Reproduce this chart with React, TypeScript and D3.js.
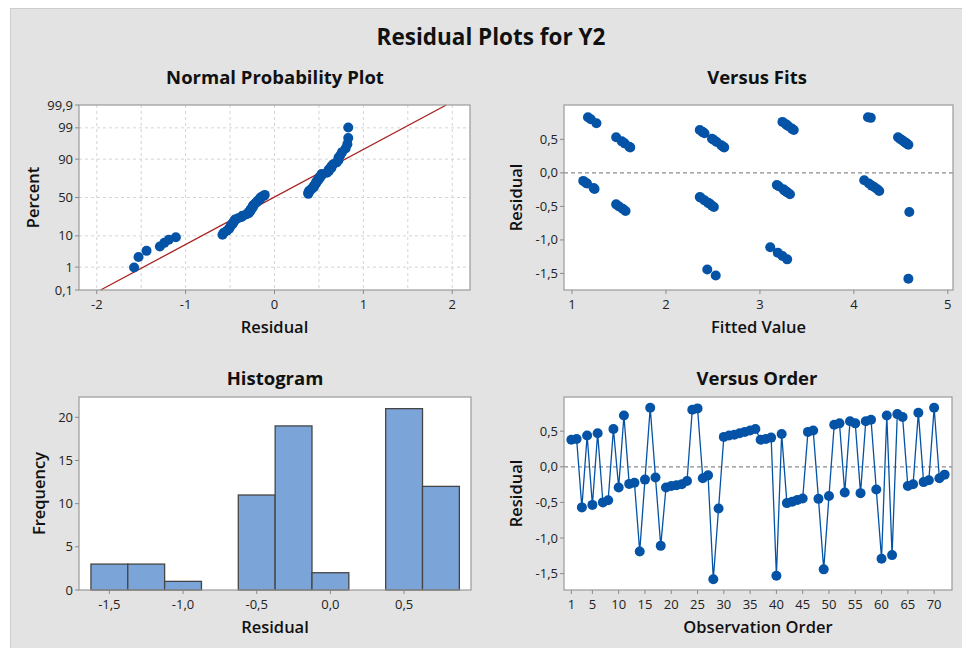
import React, { useRef, useEffect } from 'react';
import * as d3 from 'd3';

// residuals in observation order
const residuals = [
  0.38, 0.39, -0.57, 0.44, -0.535, 0.47, -0.5, -0.47, 0.53, -0.29,
  0.72, -0.24, -0.225, -1.19, -0.18, 0.83, -0.15, -1.11, -0.29, -0.27,
  -0.26, -0.245, -0.2, 0.8, 0.82, -0.16, -0.12, -1.58, -0.585, 0.42,
  0.44, 0.45, 0.47, 0.49, 0.51, 0.53, 0.38, 0.39, 0.41, -1.53,
  0.46, -0.51, -0.49, -0.465, -0.445, 0.49, 0.51, -0.45, -1.44, -0.41,
  0.59, 0.61, -0.36, 0.64, 0.61, -0.37, 0.64, 0.66, -0.32, -1.29,
  0.72, -1.24, 0.74, 0.7, -0.27, -0.245, 0.76, -0.215, -0.19, 0.83,
  -0.16, -0.11,
];

// fitted values, same order
const fittedValues = [
  1.62, 1.61, 1.57, 1.56, 1.54, 1.53, 1.5, 1.47, 1.47, 3.29,
  3.28, 1.24, 1.23, 3.19, 3.18, 1.17, 1.15, 3.11, 3.29, 3.27,
  3.26, 3.25, 3.2, 1.2, 4.18, 1.16, 1.12, 4.58, 4.59, 4.58,
  4.56, 4.55, 4.53, 4.51, 4.49, 4.47, 2.62, 2.61, 2.59, 2.53,
  2.54, 2.51, 2.49, 2.47, 2.45, 2.51, 2.49, 2.45, 2.44, 2.41,
  2.41, 2.39, 2.36, 3.36, 2.39, 2.37, 2.36, 3.34, 3.32, 3.29,
  3.28, 3.24, 1.26, 3.3, 4.27, 4.25, 3.24, 4.22, 4.19, 4.15,
  4.16, 4.11,
];

const histCenters = [-1.5, -1.25, -1.0, -0.75, -0.5, -0.25, 0.0, 0.25, 0.5, 0.75];
const histCounts = [3, 3, 1, 0, 11, 19, 2, 0, 21, 12];
const binWidth = 0.25;

const probTicks = [0.1, 1, 10, 50, 90, 99, 99.9];
const probGrid = [1, 10, 50, 90, 99];
const nppXTicks = [-2, -1, 0, 1, 2];
const nppXGrid = [-2, -1.5, -1, -0.5, 0, 0.5, 1, 1.5, 2];
const residTicks = [0.5, 0, -0.5, -1, -1.5];
const fitTicks = [1, 2, 3, 4, 5];
const histXTicks = [-1.5, -1, -0.5, 0, 0.5];
const histYTicks = [0, 5, 10, 15, 20];
const orderTicks = [1, 5, 10, 15, 20, 25, 30, 35, 40, 45, 50, 55, 60, 65, 70];

const FONT = "'Open Sans', 'Noto Sans', sans-serif";
const BLUE = '#0453a6';
const DOT = 5;

const locale = d3.formatLocale({ decimal: ',', thousands: '.', grouping: [3], currency: ['', ''], minus: '-' });
const f1 = locale.format('.1f');

// inverse normal cdf (Acklam)
function probit(p: number) {
  const a = [-3.969683028665376e1, 2.209460984245205e2, -2.759285104469687e2, 1.38357751867269e2, -3.066479806614716e1, 2.506628277459239];
  const b = [-5.447609879822406e1, 1.615858368580409e2, -1.556989798598866e2, 6.680131188771972e1, -1.328068155288572e1];
  const c = [-7.784894002430293e-3, -3.223964580411365e-1, -2.400758277161838, -2.549732539343734, 4.374664141464968, 2.938163982698783];
  const d = [7.784695709041462e-3, 3.224671290700398e-1, 2.445134137142996, 3.754408661907416];
  const pl = 0.02425;
  let q, r;
  if (p < pl) {
    q = Math.sqrt(-2 * Math.log(p));
    return (((((c[0] * q + c[1]) * q + c[2]) * q + c[3]) * q + c[4]) * q + c[5]) / ((((d[0] * q + d[1]) * q + d[2]) * q + d[3]) * q + 1);
  }
  if (p > 1 - pl) {
    q = Math.sqrt(-2 * Math.log(1 - p));
    return -(((((c[0] * q + c[1]) * q + c[2]) * q + c[3]) * q + c[4]) * q + c[5]) / ((((d[0] * q + d[1]) * q + d[2]) * q + d[3]) * q + 1);
  }
  q = p - 0.5;
  r = q * q;
  return (((((a[0] * r + a[1]) * r + a[2]) * r + a[3]) * r + a[4]) * r + a[5]) * q / (((((b[0] * r + b[1]) * r + b[2]) * r + b[3]) * r + b[4]) * r + 1);
}

type Box = { x: number; y: number; w: number; h: number };

const App = () => {
  const svgRef = useRef<SVGSVGElement>(null);

  useEffect(() => {
    const svg = d3.select(svgRef.current);
    svg.selectAll('*').remove();

    svg.append('rect').attr('width', 962).attr('height', 648).attr('fill', '#ffffff');
    svg.append('rect').attr('x', 10.5).attr('y', 8.5).attr('width', 960).attr('height', 650)
      .attr('fill', '#e3e3e3').attr('stroke', '#cdcdcd').attr('stroke-width', 1);

    svg.append('text').attr('x', 491).attr('y', 45).attr('text-anchor', 'middle')
      .style('font-family', FONT).style('font-size', '22.5px').style('font-weight', 700).attr('fill', '#111')
      .text('Residual Plots for Y2');

    const subTitle = (x: number, y: number, t: string) =>
      svg.append('text').attr('x', x).attr('y', y).attr('text-anchor', 'middle')
        .style('font-family', FONT).style('font-size', '18.5px').style('font-weight', 700).attr('fill', '#111').text(t);

    const frame = (b: Box) => svg.append('rect').attr('x', b.x).attr('y', b.y).attr('width', b.w).attr('height', b.h).attr('fill', '#fff');
    const border = (b: Box) => svg.append('rect').attr('x', b.x).attr('y', b.y).attr('width', b.w).attr('height', b.h)
      .attr('fill', 'none').attr('stroke', '#9a9a9a').attr('stroke-width', 1.2);

    const xAxis = (b: Box, sc: (v: number) => number, ticks: number[], fmt: (v: number) => string, title: string) => {
      const g = svg.append('g');
      ticks.forEach(v => {
        g.append('line').attr('x1', sc(v)).attr('x2', sc(v)).attr('y1', b.y + b.h).attr('y2', b.y + b.h + 4)
          .attr('stroke', '#8a8a8a').attr('stroke-width', 1);
        g.append('text').attr('x', sc(v)).attr('y', b.y + b.h + 19).attr('text-anchor', 'middle')
          .style('font-family', FONT).style('font-size', '13px').style('font-weight', 500).attr('fill', '#222').text(fmt(v));
      });
      g.append('text').attr('x', b.x + b.w / 2).attr('y', b.y + b.h + 43).attr('text-anchor', 'middle')
        .style('font-family', FONT).style('font-size', '16.5px').style('font-weight', 600).attr('fill', '#111').text(title);
    };

    const yAxis = (b: Box, sc: (v: number) => number, ticks: number[], fmt: (v: number) => string, title: string, titleX: number) => {
      const g = svg.append('g');
      ticks.forEach(v => {
        g.append('line').attr('x1', b.x - 4).attr('x2', b.x).attr('y1', sc(v)).attr('y2', sc(v))
          .attr('stroke', '#8a8a8a').attr('stroke-width', 1);
        g.append('text').attr('x', b.x - 6).attr('y', sc(v) + 4.5).attr('text-anchor', 'end')
          .style('font-family', FONT).style('font-size', '13px').style('font-weight', 500).attr('fill', '#222').text(fmt(v));
      });
      g.append('text').attr('transform', `translate(${titleX},${b.y + b.h / 2}) rotate(-90)`).attr('text-anchor', 'middle')
        .style('font-family', FONT).style('font-size', '16.5px').style('font-weight', 600).attr('fill', '#111').text(title);
    };

    // ---------- Normal probability plot ----------
    const nb: Box = { x: 79, y: 105, w: 391, h: 185 };
    subTitle(275, 84, 'Normal Probability Plot');
    frame(nb);
    const nx = d3.scaleLinear().domain([-2.2, 2.2]).range([nb.x, nb.x + nb.w]);
    const zMax = probit(0.999);
    const ny = d3.scaleLinear().domain([-zMax, zMax]).range([nb.y + nb.h, nb.y]);
    const py = (p: number) => ny(probit(p / 100));
    nppXGrid.forEach(v => svg.append('line').attr('x1', nx(v)).attr('x2', nx(v)).attr('y1', nb.y).attr('y2', nb.y + nb.h)
      .attr('stroke', '#d4d4d4').attr('stroke-dasharray', '3,3'));
    probGrid.forEach(p => svg.append('line').attr('x1', nb.x).attr('x2', nb.x + nb.w).attr('y1', py(p)).attr('y2', py(p))
      .attr('stroke', '#d4d4d4').attr('stroke-dasharray', '3,3'));
    const mu = d3.mean(residuals) as number;
    const sd = d3.deviation(residuals) as number;
    svg.append('line').attr('x1', nx(mu - zMax * sd)).attr('y1', ny(-zMax)).attr('x2', nx(mu + zMax * sd)).attr('y2', ny(zMax))
      .attr('stroke', '#a82020').attr('stroke-width', 1.3);
    const sorted = residuals.slice().sort(d3.ascending);
    const n = sorted.length;
    svg.append('g').selectAll('circle').data(sorted).enter().append('circle')
      .attr('cx', d => nx(d)).attr('cy', (d, i) => py(((i + 1 - 0.3) / (n + 0.4)) * 100)).attr('r', DOT).attr('fill', BLUE);
    border(nb);
    xAxis(nb, nx, nppXTicks, v => String(v), 'Residual');
    yAxis(nb, py, probTicks, v => String(v).replace('.', ','), 'Percent', 39);

    // ---------- Versus fits ----------
    const fb: Box = { x: 564, y: 105, w: 389, h: 185 };
    subTitle(757, 84, 'Versus Fits');
    frame(fb);
    const fx = d3.scaleLinear().domain([0.915, 5.055]).range([fb.x, fb.x + fb.w]);
    const fy = d3.scaleLinear().domain([-1.747, 1.012]).range([fb.y + fb.h, fb.y]);
    svg.append('line').attr('x1', fb.x).attr('x2', fb.x + fb.w).attr('y1', fy(0)).attr('y2', fy(0))
      .attr('stroke', '#8c8c8c').attr('stroke-width', 1.2).attr('stroke-dasharray', '4,3');
    svg.append('g').selectAll('circle').data(residuals).enter().append('circle')
      .attr('cx', (d, i) => fx(fittedValues[i])).attr('cy', d => fy(d)).attr('r', DOT).attr('fill', BLUE);
    border(fb);
    xAxis(fb, fx, fitTicks, v => String(v), 'Fitted Value');
    yAxis(fb, fy, residTicks, f1, 'Residual', 522);

    // ---------- Histogram ----------
    const hb: Box = { x: 79, y: 397, w: 392, h: 193 };
    subTitle(275, 385, 'Histogram');
    frame(hb);
    const hx = d3.scaleLinear().domain([-1.706, 0.954]).range([hb.x, hb.x + hb.w]);
    const hy = d3.scaleLinear().domain([0, 22.35]).range([hb.y + hb.h, hb.y]);
    svg.append('g').selectAll('rect').data(histCenters).enter().append('rect')
      .attr('x', d => hx(d - binWidth / 2)).attr('width', d => hx(d + binWidth / 2) - hx(d - binWidth / 2))
      .attr('y', (d, i) => hy(histCounts[i])).attr('height', (d, i) => hy(0) - hy(histCounts[i]))
      .attr('fill', '#7ba5d9').attr('stroke', '#454545').attr('stroke-width', 1.3);
    border(hb);
    xAxis(hb, hx, histXTicks, f1, 'Residual');
    yAxis(hb, hy, histYTicks, v => String(v), 'Frequency', 45);

    // ---------- Versus order ----------
    const ob: Box = { x: 564, y: 397, w: 388, h: 193 };
    subTitle(757, 385, 'Versus Order');
    frame(ob);
    const ox = d3.scaleLinear().domain([-0.4, 73.4]).range([ob.x, ob.x + ob.w]);
    const oy = d3.scaleLinear().domain([-1.73, 0.98]).range([ob.y + ob.h, ob.y]);
    svg.append('line').attr('x1', ob.x).attr('x2', ob.x + ob.w).attr('y1', oy(0)).attr('y2', oy(0))
      .attr('stroke', '#8c8c8c').attr('stroke-width', 1.2).attr('stroke-dasharray', '4,3');
    const line = d3.line<number>().x((d, i) => ox(i + 1)).y(d => oy(d));
    svg.append('path').datum(residuals).attr('d', line).attr('fill', 'none').attr('stroke', BLUE).attr('stroke-width', 1.3);
    svg.append('g').selectAll('circle').data(residuals).enter().append('circle')
      .attr('cx', (d, i) => ox(i + 1)).attr('cy', d => oy(d)).attr('r', DOT).attr('fill', BLUE);
    border(ob);
    xAxis(ob, ox, orderTicks, v => String(v), 'Observation Order');
    yAxis(ob, oy, residTicks, f1, 'Residual', 522);
  }, []);

  return (
    <svg ref={svgRef} width={962} height={648} style={{ position: 'absolute', left: 0, top: 0, display: 'block' }}></svg>
  );
};

export default App;
